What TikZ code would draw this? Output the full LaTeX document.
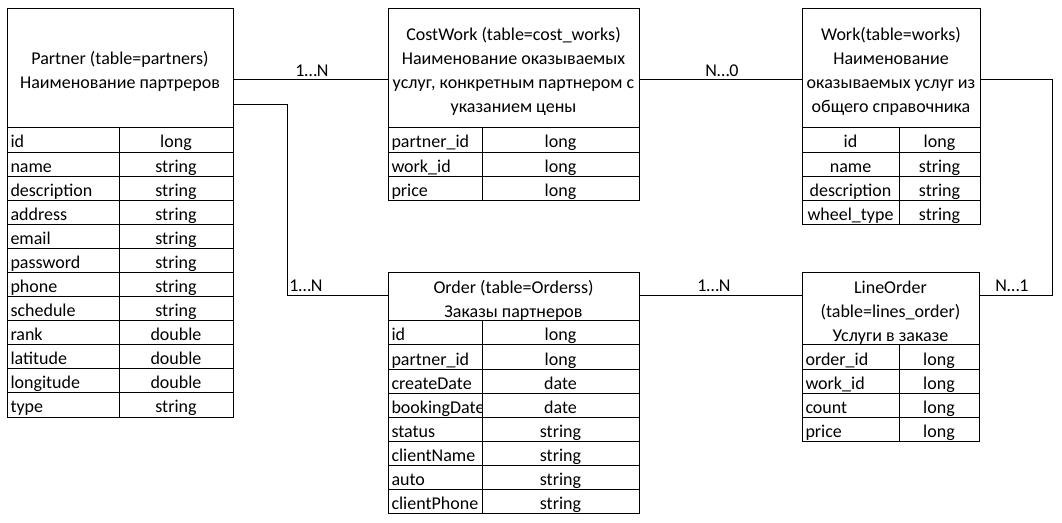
\documentclass[tikz,border=0pt]{standalone}
\usepackage{fontspec}
\setmainfont{Carlito}
\usetikzlibrary{fit}
\begin{document}
\begin{tikzpicture}[x=0.75pt,y=-0.75pt,line width=0.75pt,
  box/.style={draw,inner sep=0pt},
  ttl/.style={align=center,inner sep=0pt,font=\fontsize{13.5}{18}\selectfont},
  fld/.style={anchor=base west,inner sep=0pt,font=\fontsize{13.5}{16}\selectfont},
  typ/.style={anchor=base,inner sep=0pt,font=\fontsize{13.5}{16}\selectfont},
  lbl/.style={anchor=base,inner sep=0pt,font=\fontsize{13.5}{16}\selectfont}]
\useasboundingbox (0,0) rectangle (1062,523);

% ---------- Partner ----------
\node[box,fit={(7,9) (233,128)}] (pH) {};
\node[ttl] (pT) at ([yshift=-2.5pt]pH.center) {Partner (table=partners)\\Наименование партреров};
\node[box,fit={(7,128) (233,417)}] (pB) {};
\draw (119,128) -- (119,417);
\foreach \f/\t [count=\i from 0] in {id/long,name/string,description/string,address/string,email/string,password/string,phone/string,schedule/string,rank/double,latitude/double,longitude/double,type/string}{
  \draw (7,{128+24.08*\i}) -- (233,{128+24.08*\i});
  \node[fld] (pf\i) at (10,{148+24.08*\i}) {\f};
  \node[typ] (pt\i) at (176,{148+24.08*\i}) {\t};
}

% ---------- CostWork ----------
\node[box,fit={(388,9) (639,128)}] (cwH) {};
\node[ttl] (cwT) at ([yshift=-2.5pt]cwH.center) {CostWork (table=cost\_works)\\Наименование оказываемых\\услуг, конкретным партнером с\\указанием цены};
\node[box,fit={(388,128) (639,201)}] (cwB) {};
\draw (482,128) -- (482,201);
\foreach \f/\t [count=\i from 0] in {partner\_id/long,work\_id/long,price/long}{
  \draw (388,{128+24.3*\i}) -- (639,{128+24.3*\i});
  \node[fld] (cwf\i) at (391,{148+24.3*\i}) {\f};
  \node[typ] (cwt\i) at (560.5,{148+24.3*\i}) {\t};
}

% ---------- Work ----------
\node[box,fit={(802,9) (980,128)}] (wH) {};
\node[ttl] (wT) at ([yshift=-2.5pt]wH.center) {Work(table=works)\\Наименование\\оказываемых услуг из\\общего справочника};
\node[box,fit={(802,128) (980,225)}] (wB) {};
\draw (899,128) -- (899,225);
\foreach \f/\t [count=\i from 0] in {id/long,name/string,description/string,wheel\_type/string}{
  \draw (802,{128+24.25*\i}) -- (980,{128+24.25*\i});
  \node[typ] (wf\i) at (850.5,{148+24.25*\i}) {\f};
  \node[typ] (wt\i) at (939.5,{148+24.25*\i}) {\t};
}

% ---------- Order ----------
\node[box,fit={(388,273) (639,321)}] (oH) {};
\node[ttl] (oT) at ([yshift=-2.5pt]oH.center) {Order (table=Orderss)\\Заказы партнеров};
\node[box,fit={(388,321) (639,513)}] (oB) {};
\draw (482,321) -- (482,513);
\foreach \f/\t [count=\i from 0] in {id/long,partner\_id/long,createDate/date,bookingDate/date,status/string,clientName/string,auto/string,clientPhone/string}{
  \draw (388,{321+24*\i}) -- (639,{321+24*\i});
  \begin{scope}
    \clip (388,{321+24*\i}) rectangle (481.6,{345+24*\i});
    \node[fld] (of\i) at (391,{341+24*\i}) {\f};
  \end{scope}
  \node[typ] (ot\i) at (560.5,{341+24*\i}) {\t};
}

% ---------- LineOrder ----------
\node[box,fit={(802,273) (979,345)}] (loH) {};
\node[ttl] (loT) at ([yshift=-2.5pt]loH.center) {LineOrder\\(table=lines\_order)\\Услуги в заказе};
\node[box,fit={(802,345) (979,441)}] (loB) {};
\draw (899,345) -- (899,441);
\foreach \f/\t [count=\i from 0] in {order\_id/long,work\_id/long,count/long,price/long}{
  \draw (802,{345+24*\i}) -- (979,{345+24*\i});
  \node[fld] (lof\i) at (805,{365+24*\i}) {\f};
  \node[typ] (lot\i) at (939,{365+24*\i}) {\t};
}

% ---------- connectors ----------
\coordinate (c1) at (287,296);
\coordinate (c2) at (1052,296);
\draw (pH.east |- 0,80) -- (cwH.west |- 0,80);
\draw (cwH.east |- 0,80) -- (wH.west |- 0,80);
\draw (pH.east |- 0,105) -| (c1) -- (oH.west |- c1);
\draw (oH.east |- c1) -- (loH.west |- c1);
\draw (wH.east |- 0,80) -| (c2) -- (loH.east |- c2);

\node[lbl] (l1) at (312,77) {1…N};
\node[lbl] (l2) at (722,77) {N…0};
\node[lbl] (l3) at (306,292) {1…N};
\node[lbl] (l4) at (714,292) {1…N};
\node[lbl] (l5) at (1012,292) {N…1};
\end{tikzpicture}
\end{document}
